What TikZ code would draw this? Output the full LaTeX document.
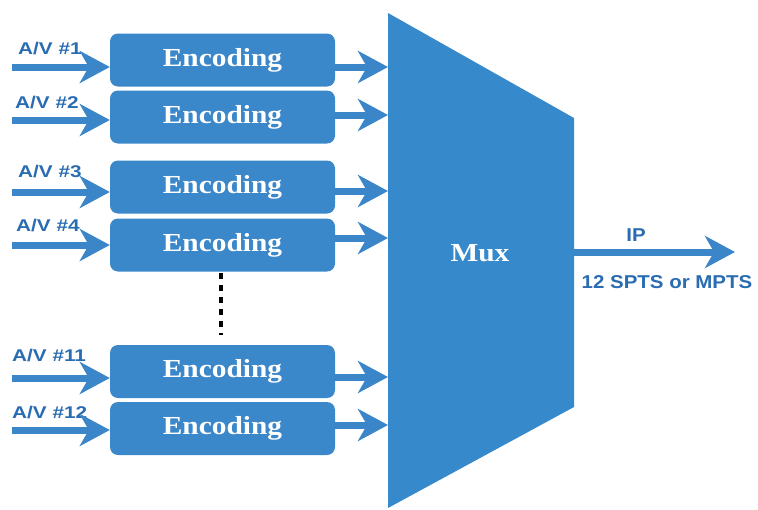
\documentclass[tikz,border=0pt]{standalone}
\usepackage{fontspec}
\usetikzlibrary{arrows.meta}
\newfontfamily\encfont[FakeStretch=1.13]{Liberation Serif}
\newfontfamily\avfont[FakeStretch=1.22]{Liberation Sans}
\newfontfamily\ipfont[FakeStretch=1.1]{Liberation Sans}
\definecolor{boxblue}{HTML}{3A87CA}
\definecolor{muxblue}{HTML}{3689CB}
\definecolor{arrblue}{HTML}{3A86C8}
\definecolor{lblblue}{HTML}{2A6CB2}
\tikzset{
  encbox/.style={fill=boxblue, rounded corners=8pt, minimum width=225pt, minimum height=53pt, inner sep=0pt,
    text=white, font=\encfont\fontsize{26}{30}\selectfont\bfseries},
  avlabel/.style={anchor=west, inner sep=0pt, text=lblblue, font=\avfont\fontsize{17}{20}\selectfont\bfseries},
  iplabel/.style={inner sep=0pt, text=lblblue, font=\ipfont\fontsize{18.6}{22}\selectfont\bfseries},
  flow/.style={draw=arrblue, line width=7pt, -{Stealth[length=30pt, width=32pt, inset=9pt]}},
}
\begin{document}
\begin{tikzpicture}[x=1pt, y=-1pt]
\useasboundingbox (0,0) rectangle (758,509);
% Mux
\fill[muxblue] (388,13) -- (574,118) -- (574,407) -- (388,508) -- cycle;
\node[text=white, font=\encfont\fontsize{26}{30}\selectfont\bfseries, inner sep=0pt] (mux) at (480,253) {Mux};
% boxes
\node[encbox] (e1) at (222.5,60) {Encoding};
\node[encbox] (e2) at (222.5,117) {Encoding};
\node[encbox] (e3) at (222.5,187) {Encoding};
\node[encbox] (e4) at (222.5,245) {Encoding};
\node[encbox] (e11) at (222.5,371.5) {Encoding};
\node[encbox] (e12) at (222.5,428.5) {Encoding};
% labels
\node[avlabel] (l1) at (18,49) {A/V \#1};
\node[avlabel] (l2) at (15,103) {A/V \#2};
\node[avlabel] (l3) at (18,172) {A/V \#3};
\node[avlabel] (l4) at (16,226) {A/V \#4};
\node[avlabel] (l11) at (12,356) {A/V \#11};
\node[avlabel] (l12) at (12,413) {A/V \#12};
% input arrow start points
\coordinate (s1) at (12,67);
\coordinate (s2) at (12,120);
\coordinate (s3) at (12,192);
\coordinate (s4) at (12,245);
\coordinate (s11) at (12,378);
\coordinate (s12) at (12,430);
\draw[flow] (s1) -- (e1.west |- s1);
\draw[flow] (s2) -- (e2.west |- s2);
\draw[flow] (s3) -- (e3.west |- s3);
\draw[flow] (s4) -- (e4.west |- s4);
\draw[flow] (s11) -- (e11.west |- s11);
\draw[flow] (s12) -- (e12.west |- s12);
% output arrows to mux
\coordinate (m1) at (388,67);
\coordinate (m2) at (388,115);
\coordinate (m3) at (388,191);
\coordinate (m4) at (388,238);
\coordinate (m11) at (388,377);
\coordinate (m12) at (388,425);
\draw[flow] (e1.east |- m1) -- (m1);
\draw[flow] (e2.east |- m2) -- (m2);
\draw[flow] (e3.east |- m3) -- (m3);
\draw[flow] (e4.east |- m4) -- (m4);
\draw[flow] (e11.east |- m11) -- (m11);
\draw[flow] (e12.east |- m12) -- (m12);
% dots
\draw[black, line width=4.5pt, dash pattern=on 6pt off 6pt] ([yshift=-1pt]e4.south -| 221,0) -- ([yshift=10pt]e11.north -| 221,0);
% output
\coordinate (mo) at (574,252);
\coordinate (out) at (735,252);
\draw[flow] (mo) -- (out);
\node[iplabel] (ip) at (636,235) {IP};
\node[iplabel] (ts) at (667,282) {12 SPTS or MPTS};
\end{tikzpicture}
\end{document}
